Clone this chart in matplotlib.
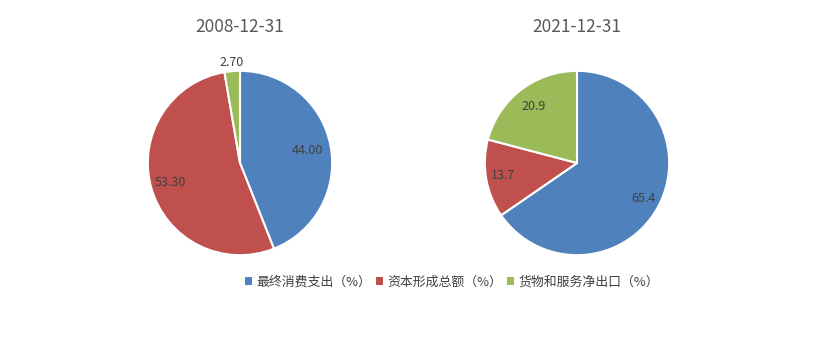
import numpy as np
import matplotlib.pyplot as plt
from matplotlib.patches import Patch

plt.rcParams['font.family'] = ['Noto Sans CJK SC', 'DejaVu Sans']

## Data
categories = ["最终消费支出（%）", "资本形成总额（%）", "货物和服务净出口（%）"]
dates = ["2008-12-31", "2021-12-31"]
values_2008 = [44.00, 53.30, 2.70]
values_2021 = [65.4, 13.7, 20.9]
labels_2008 = ["44.00", "53.30", "2.70"]
labels_2021 = ["65.4", "13.7", "20.9"]

colors = ["#4F81BD", "#C0504D", "#9BBB59"]
W, H = 817, 342

fig = plt.figure(figsize=(W / 100, H / 100), dpi=100)

def draw(cx, cy, r, vals, labs, dists, title):
    ax = fig.add_axes([(cx - r) / W, (H - cy - r) / H, 2 * r / W, 2 * r / H])
    wedges, _ = ax.pie(vals, colors=colors, startangle=90, counterclock=False,
                       radius=1, wedgeprops=dict(edgecolor="white", linewidth=1.5))
    for w, lab, d in zip(wedges, labs, dists):
        ang = np.deg2rad((w.theta1 + w.theta2) / 2)
        ax.text(d * np.cos(ang), d * np.sin(ang), lab, ha="center", va="center",
                fontsize=9, color="#404040")
    ax.set_xlim(-1.02, 1.02)
    ax.set_ylim(-1.02, 1.02)
    fig.text(cx / W, 1 - 27 / H, title, ha="center", va="center",
             fontsize=12.5, color="#595959")

draw(240, 163, 94, values_2008, labels_2008, [0.74, 0.79, 1.09], dates[0])
draw(577, 163, 94, values_2021, labels_2021, [0.82, 0.82, 0.78], dates[1])

handles = [Patch(facecolor=c, edgecolor="none") for c in colors]
fig.legend(handles, categories, loc="center", bbox_to_anchor=(452 / W, 1 - 282 / H),
           ncol=3, frameon=False, fontsize=9.3, handlelength=0.55, handleheight=0.55,
           handletextpad=0.4, columnspacing=0.3, labelcolor="#404040")

fig.savefig("out.png", dpi=100, facecolor="white")
